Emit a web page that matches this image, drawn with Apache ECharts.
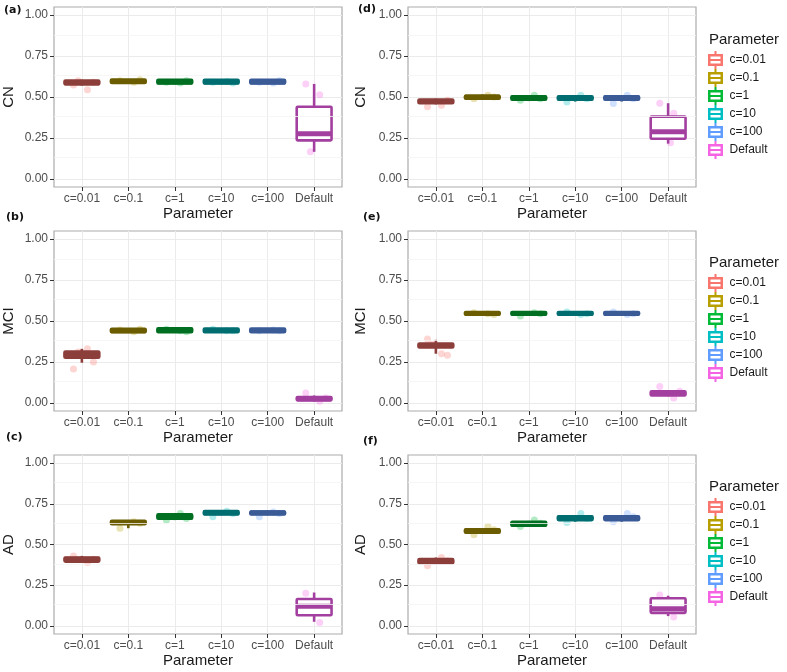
<!DOCTYPE html>
<html><head><meta charset="utf-8">
<script src="https://cdn.jsdelivr.net/npm/echarts@6/dist/echarts.min.js"></script>
<style>html,body{margin:0;padding:0;background:#fff}#c{width:787px;height:672px}</style>
</head><body><div id="c"></div>
<script>
const categories = ['c=0.01','c=0.1','c=1','c=10','c=100','Default'];
const yTicks = [0, 0.25, 0.5, 0.75, 1];
const yMinor = [0.125, 0.375, 0.625, 0.875];
const hueColors = ['#F8766D','#B79F00','#00BA38','#00BFC4','#619CFF','#F564E3'];
const boxColors = ['#8C3E3B','#6B5C00','#006F22','#006E71','#3B5B97','#A3409F'];

// box stats: [min, q1, median, q3, max]
const cnA = [[0.570,0.578,0.585,0.600,0.605],[0.582,0.586,0.595,0.606,0.610],[0.578,0.583,0.592,0.605,0.610],[0.578,0.583,0.592,0.605,0.610],[0.578,0.583,0.592,0.605,0.610],[0.165,0.235,0.275,0.440,0.580]];
const cnD = [[0.455,0.462,0.472,0.485,0.490],[0.485,0.490,0.500,0.508,0.515],[0.475,0.483,0.495,0.505,0.512],[0.472,0.483,0.493,0.505,0.512],[0.472,0.483,0.495,0.505,0.512],[0.215,0.245,0.288,0.380,0.462]];
const mciB = [[0.245,0.275,0.295,0.313,0.330],[0.430,0.432,0.440,0.453,0.455],[0.430,0.432,0.443,0.455,0.457],[0.430,0.432,0.442,0.454,0.456],[0.430,0.432,0.442,0.454,0.456],[0.008,0.015,0.025,0.035,0.045]];
const mciE = [[0.300,0.338,0.350,0.362,0.385],[0.535,0.538,0.545,0.555,0.558],[0.535,0.538,0.545,0.555,0.558],[0.535,0.538,0.545,0.555,0.558],[0.535,0.538,0.545,0.555,0.558],[0.040,0.045,0.058,0.070,0.075]];
const adC = [[0.390,0.395,0.410,0.420,0.430],[0.600,0.625,0.635,0.645,0.650],[0.650,0.658,0.670,0.685,0.690],[0.680,0.685,0.695,0.705,0.710],[0.680,0.685,0.695,0.703,0.708],[0.025,0.065,0.120,0.165,0.205]];
const adF = [[0.380,0.385,0.400,0.410,0.420],[0.565,0.572,0.585,0.593,0.600],[0.610,0.615,0.625,0.640,0.645],[0.640,0.650,0.665,0.673,0.680],[0.640,0.650,0.663,0.673,0.680],[0.060,0.080,0.105,0.170,0.185]];

// jittered raw points per category
const ptsA = [[0.574,0.544,0.590,0.600],[0.600,0.590,0.605],[0.590,0.585,0.600],[0.590,0.595,0.585],[0.590,0.585,0.600],[0.580,0.513,0.417,0.165,0.250]];
const ptsD = [[0.440,0.450,0.480],[0.490,0.510,0.500],[0.480,0.510,0.490],[0.470,0.510,0.490],[0.460,0.510,0.490],[0.462,0.400,0.340,0.320,0.220]];
const ptsB = [[0.206,0.330,0.250,0.310],[0.445,0.435,0.450],[0.450,0.440,0.435],[0.450,0.440,0.440],[0.440,0.445,0.440],[0.060,0.010,0.030]];
const ptsE = [[0.390,0.300,0.290,0.360],[0.550,0.545,0.540],[0.530,0.550,0.545],[0.555,0.540,0.545],[0.555,0.540,0.545],[0.100,0.030,0.070]];
const ptsC = [[0.430,0.390,0.410],[0.600,0.640,0.630],[0.650,0.690,0.660],[0.670,0.705,0.690],[0.670,0.700,0.690],[0.200,0.020,0.120,0.090]];
const ptsF = [[0.370,0.420,0.400],[0.560,0.610,0.590],[0.610,0.650,0.630],[0.635,0.690,0.660],[0.640,0.690,0.670],[0.190,0.055,0.120,0.140]];
const jitter = [-0.18, 0.12, 0.25, -0.08, 0.05];

const panels = [
  {label:'(a)', yName:'CN',  stats:cnA, pts:ptsA, left:53,  top:7,   w:289, h:180, lab:[4,5],    nameGap:38},
  {label:'(d)', yName:'CN',  stats:cnD, pts:ptsD, left:408, top:7,   w:288, h:180, lab:[358,4],  nameGap:40, legendTop:51, titleTop:32},
  {label:'(b)', yName:'MCI', stats:mciB, pts:ptsB, left:53,  top:231, w:289, h:180, lab:[6,212],  nameGap:38},
  {label:'(e)', yName:'MCI', stats:mciE, pts:ptsE, left:408, top:231, w:288, h:180, lab:[363,212], nameGap:40, legendTop:274, titleTop:255},
  {label:'(c)', yName:'AD',  stats:adC, pts:ptsC, left:53,  top:455, w:289, h:179, lab:[6,432],  nameGap:38},
  {label:'(f)', yName:'AD',  stats:adF, pts:ptsF, left:408, top:455, w:288, h:179, lab:[363,436], nameGap:40, legendTop:498, titleTop:479}
];

const FONT = '"Liberation Sans", Arial, sans-serif';
const grid = [], xAxis = [], yAxis = [], series = [], title = [], legend = [];

panels.forEach((p, i) => {
  grid.push({left:p.left, top:p.top, width:p.w, height:p.h, show:true, borderColor:'#ababab', borderWidth:1.2, backgroundColor:'#fff'});
  xAxis.push({
    type:'value', gridIndex:i, min:-0.6, max:5.6, position:'bottom',
    name:'Parameter', nameLocation:'middle', nameGap:19,
    nameTextStyle:{fontSize:15, color:'#1a1a1a', fontFamily:FONT},
    axisLine:{show:false, onZero:false},
    axisTick:{show:true, customValues:[0,1,2,3,4,5], length:4, lineStyle:{color:'#333'}},
    axisLabel:{customValues:[0,1,2,3,4,5], formatter:v => categories[Math.round(v)], fontSize:12, color:'#4d4d4d', margin:6, fontFamily:FONT},
    splitLine:{show:true, lineStyle:{color:'#ebebeb', width:1}}
  });
  yAxis.push({
    type:'value', gridIndex:i, min:-0.05, max:1.05, position:'left',
    name:p.yName, nameLocation:'middle', nameGap:p.nameGap, nameRotate:90,
    nameTextStyle:{fontSize:15, color:'#1a1a1a', fontFamily:FONT},
    axisLine:{show:false, onZero:false},
    axisTick:{show:true, customValues:yTicks, length:4, lineStyle:{color:'#333'}},
    axisLabel:{customValues:yTicks, formatter:v => v.toFixed(2), fontSize:12, color:'#4d4d4d', margin:6, fontFamily:FONT},
    splitLine:{show:true, lineStyle:{color:'#ebebeb', width:1}}
  });
  title.push({text:p.label, left:p.lab[0], top:p.lab[1], padding:0, textStyle:{fontSize:11, fontWeight:'bold', color:'#111', fontFamily:'"DejaVu Sans", sans-serif'}});

  // minor grid + points
  const ptData = [];
  p.pts.forEach((arr, ci) => arr.forEach((v, k) => ptData.push({value:[ci + jitter[k % jitter.length], v], itemStyle:{color:hueColors[ci]}})));
  series.push({
    type:'scatter', name:'pts'+i, xAxisIndex:i, yAxisIndex:i, data:ptData,
    symbolSize:7, itemStyle:{opacity:0.3}, z:1, silent:true,
    markLine:{silent:true, symbol:'none', label:{show:false}, animation:false,
      lineStyle:{color:'#f4f4f4', width:0.8, type:'solid'},
      data:yMinor.map(v => ({yAxis:v}))}
  });

  p.stats.forEach((s, ci) => {
    series.push({
      type:'custom', name:categories[ci], xAxisIndex:i, yAxisIndex:i, z:3,
      itemStyle:{color:hueColors[ci]},
      data:[[ci, s[0], s[1], s[2], s[3], s[4]]],
      renderItem:(params, api) => {
        const x = api.value(0);
        const half = api.size([0.75, 0])[0] / 2;
        const pMin = api.coord([x, api.value(1)]);
        const pQ1 = api.coord([x, api.value(2)]);
        const pMed = api.coord([x, api.value(3)]);
        const pQ3 = api.coord([x, api.value(4)]);
        const pMax = api.coord([x, api.value(5)]);
        const col = boxColors[ci];
        const lw = 2.6;
        return {type:'group', children:[
          {type:'line', shape:{x1:pMax[0], y1:pMax[1], x2:pQ3[0], y2:pQ3[1]}, style:{stroke:col, lineWidth:lw}},
          {type:'line', shape:{x1:pQ1[0], y1:pQ1[1], x2:pMin[0], y2:pMin[1]}, style:{stroke:col, lineWidth:lw}},
          {type:'rect', shape:{x:pQ3[0]-half, y:pQ3[1], width:2*half, height:pQ1[1]-pQ3[1], r:1}, style:{fill:'#fff', stroke:col, lineWidth:lw, lineJoin:'round'}},
          {type:'line', shape:{x1:pMed[0]-half, y1:pMed[1], x2:pMed[0]+half, y2:pMed[1]}, style:{stroke:col, lineWidth:lw*1.9}}
        ]};
      }
    });
  });

  if (p.legendTop !== undefined) {
    title.push({text:'Parameter', left:709, top:p.titleTop, padding:0, textStyle:{fontSize:15, fontWeight:'normal', color:'#1a1a1a', fontFamily:FONT}});
    legend.push({
      orient:'vertical', left:708, top:p.legendTop, padding:0, itemGap:0,
      itemWidth:16, itemHeight:18, selectedMode:false,
      icon:'path://M7 0L9 0L9 3L7 3ZM0.5 3L15.5 3L15.5 15L0.5 15ZM3 5.5L3 8L13 8L13 5.5ZM3 10L3 12.5L13 12.5L13 10ZM7 15L9 15L9 18L7 18Z',
      textStyle:{fontSize:12, color:'#1a1a1a', fontFamily:FONT, padding:[0,0,0,1]},
      data:categories
    });
  }
});

const chart = echarts.init(document.getElementById('c'), null, {renderer:'canvas'});
chart.setOption({animation:false, backgroundColor:'#fff', textStyle:{fontFamily:FONT}, grid, xAxis, yAxis, title, legend, series});
</script></body></html>
